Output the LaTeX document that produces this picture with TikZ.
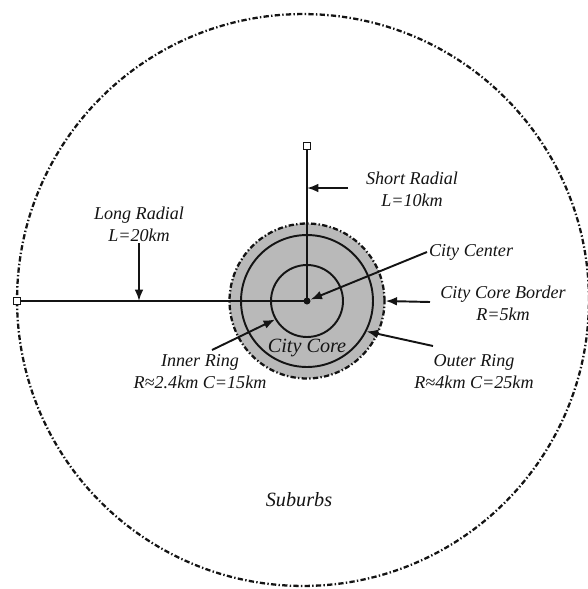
\documentclass[tikz,border=0pt]{standalone}
\usepackage{fontspec}
\setmainfont{Liberation Serif}
\usepackage{tikz}
\usetikzlibrary{arrows.meta, positioning}
\definecolor{mydark}{RGB}{20,20,20}
\definecolor{coregray}{RGB}{185,185,185}
\tikzset{
  ring/.style={circle, draw=mydark, line width=1.1pt, inner sep=0pt},
  border/.style={circle, draw=mydark, line width=1.3pt, inner sep=0pt,
    dash pattern=on 3pt off 1.3pt on 0.8pt off 1.3pt},
  endsq/.style={rectangle, draw=mydark, fill=white, line width=0.8pt,
    minimum size=0.13cm, inner sep=0pt},
  lbl/.style={font=\fontsize{10.3}{12.5}\selectfont\itshape, align=center,
    text=mydark, inner sep=1pt},
  biglbl/.style={lbl, font=\fontsize{11.5}{14}\selectfont\itshape},
  arrow/.style={-{Latex[length=6.5pt, width=5pt]}, line width=1.1pt, color=mydark},
  line/.style={line width=1.1pt, color=mydark}
}

\begin{document}
\begin{tikzpicture}[x=0.02cm, y=-0.02cm]
  \useasboundingbox (0,0) rectangle (588,589);

  % Suburbs boundary
  \node[border, minimum size=11.44cm] (suburb) at (303,300) {};

  % City core and rings
  \node[border, fill=coregray, minimum size=3.1cm] (core) at (307,301) {};
  \node[ring, minimum size=2.64cm] (outer) at (307,301) {};
  \node[ring, minimum size=1.44cm] (inner) at (307,301) {};

  % Radials
  \coordinate (ctr) at (307,301);
  \node[endsq] (sEnd) at (307,146) {};
  \node[endsq] (lEnd) at (17,301) {};
  \draw[line] (ctr) -- (sEnd);
  \draw[line] (ctr) -- (lEnd);
  \node[circle, fill=mydark, minimum size=0.14cm, inner sep=0pt] (cDot) at (ctr) {};

  % Labels
  \node[lbl] (shortLbl) at (412,189) {Short Radial\\L=10km};
  \node[lbl] (longLbl) at (139,224) {Long Radial\\L=20km};
  \node[lbl, anchor=west] (ctrLbl) at (427,252) {City Center};
  \node[lbl] (borderLbl) at (503,303) {City Core Border\\R=5km};
  \node[lbl] (outerLbl) at (474,372) {Outer Ring\\R≈4km C=25km};
  \node[lbl] (innerLbl) at (200,372) {Inner Ring\\R≈2.4km C=15km};
  \node[biglbl] (coreLbl) at (307,348) {City Core};
  \node[biglbl] (subLbl) at (299,500) {Suburbs};

  % Pointers
  \coordinate (sTail) at (348,188);
  \coordinate (sTip) at (307,188);
  \coordinate (lTip) at (139,301);
  \coordinate (bTail) at (430,302);
  \coordinate (oTail) at (433,346);
  \coordinate (iTail) at (212,350);
  \draw[arrow] (sTail) -- (sTip);
  \draw[arrow] (longLbl.south) -- (lTip);
  \draw[arrow] (ctrLbl.west) -- (cDot);
  \draw[arrow] (bTail) -- (core.east);
  \draw[arrow] (oTail) -- (outer.-27);
  \draw[arrow] (iTail) -- (inner.210);
\end{tikzpicture}
\end{document}
